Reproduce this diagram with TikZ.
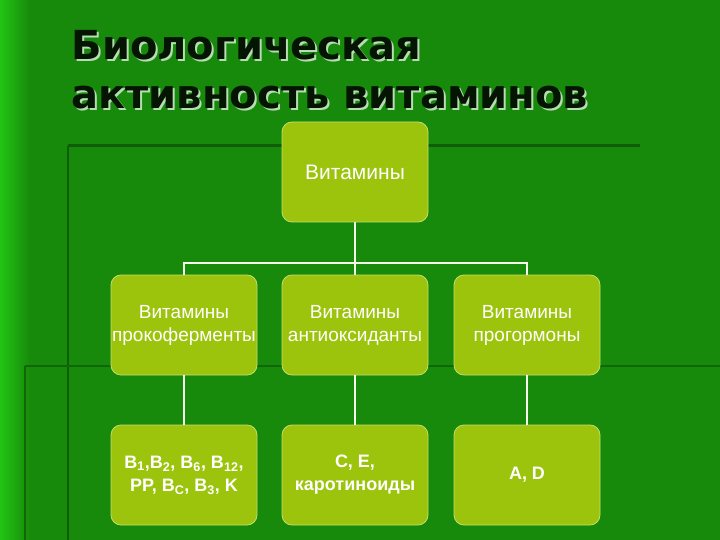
\documentclass[tikz,border=0pt]{standalone}
\usepackage{fontspec}
\setmainfont{Liberation Sans}
\newfontfamily\titlefont{DejaVu Sans}
\definecolor{bg}{HTML}{178A0B}
\definecolor{bgl}{HTML}{22C414}
\definecolor{boxc}{HTML}{9CC40C}
\definecolor{dline}{HTML}{0D5E06}
\newcommand{\sbs}[1]{\textsubscript{#1}}
\tikzset{vbox/.style={draw=boxc!60!white, line width=0.8pt, fill=boxc, rounded corners=10pt, minimum width=146pt, minimum height=100pt, inner xsep=0pt, text=white, align=center, font=\fontsize{19}{23}\selectfont},
conn/.style={draw=white!90!boxc, line width=1.3pt},
ttl/.style={anchor=west, font=\titlefont\bfseries\fontsize{40}{44}\selectfont}}
\begin{document}
\begin{tikzpicture}[x=1pt,y=-1pt]
\useasboundingbox (0,0) rectangle (720,540);
\fill[bg] (0,0) rectangle (720,540);
\shade[left color=bgl, right color=bg] (0,0) rectangle (30,540);
\draw[dline, line width=3pt] (68,146) -- (640,146);
\draw[dline, line width=2pt] (68,146) -- (68,540);
\draw[dline!80!bg, line width=2pt] (25,366) -- (720,366);
\draw[dline!80!bg, line width=1.5pt] (25,366) -- (25,540);
\node[ttl, text=white!70!bg] at (70,47) {Биологическая};
\node[ttl, text=white!70!bg] at (70,100) {активность витаминов};
\node[ttl, text=black!85!bg] (t1) at (68,45) {Биологическая};
\node[ttl, text=black!85!bg] (t2) at (68,98) {активность витаминов};
\node[vbox, font=\fontsize{21}{25}\selectfont] (top) at (355,172) {Витамины};
\node[vbox] (m1) at (184,325) {Витамины\\прокоферменты};
\node[vbox] (m2) at (355,325) {Витамины\\антиоксиданты};
\node[vbox] (m3) at (527,325) {Витамины\\прогормоны};
\node[vbox, font=\bfseries\fontsize{18}{23}\selectfont] (b1) at (184,475) {B\sbs{1},B\sbs{2}, B\sbs{6}, B\sbs{12},\\PP, B\sbs{C}, B\sbs{3}, K};
\node[vbox, font=\bfseries\fontsize{18}{23}\selectfont] (b2) at (355,475) {C, E,\\каротиноиды};
\node[vbox, font=\bfseries\fontsize{18}{23}\selectfont] (b3) at (527,475) {A, D};
\coordinate (bus) at (355,263);
\draw[conn] (top.south) -- (bus);
\draw[conn] (m1.north) |- (bus) -| (m3.north);
\draw[conn] (bus) -- (m2.north);
\draw[conn] (m1.south) -- (b1.north);
\draw[conn] (m2.south) -- (b2.north);
\draw[conn] (m3.south) -- (b3.north);
\end{tikzpicture}
\end{document}
